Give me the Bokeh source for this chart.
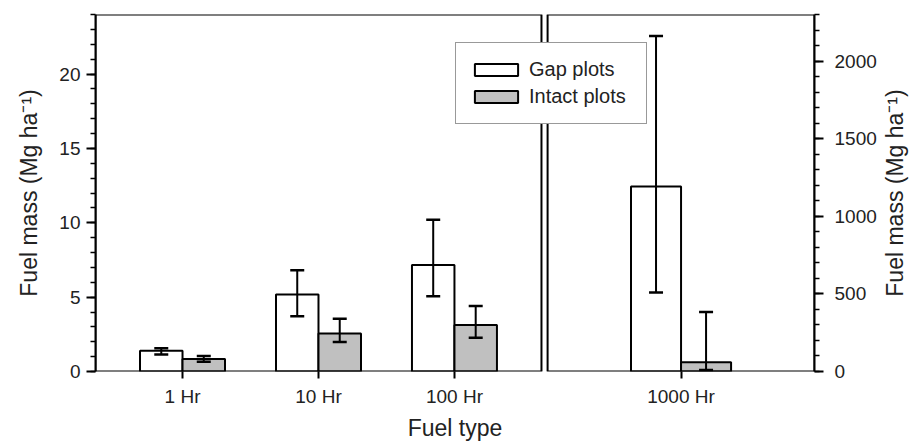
import math
from bokeh.plotting import figure
from bokeh.layouts import row
from bokeh.models import (Range1d, LinearAxis, SingleIntervalTicker, FixedTicker, Whisker,
                          TeeHead, ColumnDataSource, BoxAnnotation, Legend, LegendItem)
from bokeh.core.properties import value
from bokeh.embed import file_html
from bokeh.resources import INLINE

# ---------------- data ----------------
categories_left = ["1 Hr", "10 Hr", "100 Hr"]
gap_left = [1.40, 5.17, 7.16]
gap_left_lower = [1.15, 3.72, 5.06]
gap_left_upper = [1.57, 6.80, 10.2]
intact_left = [0.84, 2.56, 3.12]
intact_left_lower = [0.66, 1.98, 2.27]
intact_left_upper = [1.04, 3.54, 4.41]

categories_right = ["1000 Hr"]
gap_right = [1192]
gap_right_lower = [509]
gap_right_upper = [2162]
intact_right = [59]
intact_right_lower = [10]
intact_right_upper = [384]

series_names = ["Gap plots", "Intact plots"]
y_title = "Fuel mass (Mg ha⁻¹)"
x_title = "Fuel type"

# ---------------- layout ----------------
FONT = "Liberation Sans"
GAP_FILL = "white"
INTACT_FILL = "#c0c0c0"

PAD = 0.64
x_left = [i + 1 for i in range(len(categories_left))]
left_lo = x_left[0] - PAD
left_hi = x_left[-1] + PAD
PANEL_GAP = 0.045
RIGHT_SPAN = 1.963
right_lo = left_hi + PANEL_GAP
right_hi = right_lo + RIGHT_SPAN
x_right = [right_lo + RIGHT_SPAN / 2 + i for i in range(len(categories_right))]

W_LEFT = 0.3125
W_RIGHT = 0.368
Y_MAX_L = 24
Y_MAX_R = 2300
TOP = 14
FRAME_H = 357

p = figure(frame_width=719, frame_height=FRAME_H,
           x_range=Range1d(left_lo, right_hi), y_range=Range1d(0, Y_MAX_L),
           output_backend="svg", toolbar_location=None,
           min_border_left=95, min_border_top=TOP, min_border_right=64, min_border_bottom=3)
p.outline_line_color = None
p.background_fill_color = "white"
p.border_fill_color = "white"
p.xgrid.visible = False
p.ygrid.visible = False

p.extra_y_ranges = {"right": Range1d(0, Y_MAX_R)}

# ---------------- bars ----------------
src_l = ColumnDataSource(dict(
    xg=[x - W_LEFT / 2 for x in x_left], xi=[x + W_LEFT / 2 for x in x_left],
    gap=gap_left, gl=gap_left_lower, gu=gap_left_upper,
    intact=intact_left, il=intact_left_lower, iu=intact_left_upper))
src_r = ColumnDataSource(dict(
    xg=[x - W_RIGHT / 2 for x in x_right], xi=[x + W_RIGHT / 2 for x in x_right],
    gap=gap_right, gl=gap_right_lower, gu=gap_right_upper,
    intact=intact_right, il=intact_right_lower, iu=intact_right_upper))

bar_kw = dict(line_color="black", line_width=2)
g1 = p.vbar(x="xg", top="gap", bottom=0, width=W_LEFT, source=src_l, fill_color=GAP_FILL, **bar_kw)
i1 = p.vbar(x="xi", top="intact", bottom=0, width=W_LEFT, source=src_l, fill_color=INTACT_FILL, **bar_kw)
p.vbar(x="xg", top="gap", bottom=0, width=W_RIGHT, source=src_r, fill_color=GAP_FILL,
       y_range_name="right", **bar_kw)
p.vbar(x="xi", top="intact", bottom=0, width=W_RIGHT, source=src_r, fill_color=INTACT_FILL,
       y_range_name="right", **bar_kw)

def whisker(src, base, lo, hi, yr="default"):
    w = Whisker(source=src, base=base, lower=lo, upper=hi, line_width=2, line_color="black",
                upper_head=TeeHead(size=14, line_width=2.5, line_color="black"),
                lower_head=TeeHead(size=14, line_width=2.5, line_color="black"),
                level="annotation", y_range_name=yr)
    p.add_layout(w)

whisker(src_l, "xg", "gl", "gu")
whisker(src_l, "xi", "il", "iu")
whisker(src_r, "xg", "gl", "gu", "right")
whisker(src_r, "xi", "il", "iu", "right")

# ---------------- panel frames ----------------
for lo, hi in [(left_lo, left_hi), (right_lo, right_hi)]:
    p.add_layout(BoxAnnotation(left=lo, right=hi, bottom=0, top=Y_MAX_L, fill_color=None,
                               line_color="black", line_width=2, line_alpha=1, level="annotation"))

# ---------------- axes ----------------
yl = p.yaxis[0]
yl.ticker = SingleIntervalTicker(interval=5, num_minor_ticks=5)
yl.axis_label = y_title

yr_axis = LinearAxis(y_range_name="right", ticker=SingleIntervalTicker(interval=500, num_minor_ticks=5))
p.add_layout(yr_axis, "right")

for ax in [yl, yr_axis]:
    ax.axis_line_width = 2
    ax.axis_line_color = "black"
    ax.major_tick_line_width = 2
    ax.minor_tick_line_width = 1.5
    ax.major_tick_out = 9
    ax.major_tick_in = 0
    ax.minor_tick_out = 5
    ax.minor_tick_in = 0
    ax.major_label_text_font = FONT
    ax.major_label_text_font_size = "19px"
    ax.major_label_text_color = "#222222"
    ax.axis_label_text_font = FONT
    ax.axis_label_text_font_size = "23px"
    ax.axis_label_text_font_style = "normal"
    ax.axis_label_text_color = "#222222"
yl.major_label_standoff = 6
yl.axis_label_standoff = 14
yr_axis.major_label_standoff = 11

xa = p.xaxis[0]
all_x = x_left + x_right
xa.ticker = FixedTicker(ticks=all_x, minor_ticks=[])
xa.major_label_overrides = {x: c for x, c in zip(all_x, categories_left + categories_right)}
xa.axis_line_color = None
xa.major_tick_line_width = 2
xa.major_tick_out = 7
xa.major_tick_in = 0
xa.minor_tick_line_color = None
xa.major_label_text_font = FONT
xa.major_label_text_font_size = "19px"
xa.major_label_text_color = "#222222"
xa.major_label_standoff = 7
xa.axis_label = x_title
xa.axis_label_text_font = FONT
xa.axis_label_text_font_size = "23px"
xa.axis_label_text_font_style = "normal"
xa.axis_label_text_color = "#222222"
xa.axis_label_standoff = 5

# ---------------- legend ----------------
legend = Legend(items=[LegendItem(label=series_names[0], renderers=[g1]),
                       LegendItem(label=series_names[1], renderers=[i1])],
                location=(360, 247), padding=13, spacing=0,
                glyph_width=54, glyph_height=15, label_width=104, label_height=27,
                label_standoff=6, label_text_font=FONT, label_text_font_size="20px",
                label_text_color="#222222", border_line_color="#333333", border_line_width=1.5,
                background_fill_color="white", background_fill_alpha=1, level="overlay")
p.add_layout(legend)

# ---------------- right-hand axis title (reads bottom-to-top, as on the left) ----------------
p2 = figure(frame_width=30, frame_height=FRAME_H, x_range=Range1d(0, 1), y_range=Range1d(0, Y_MAX_L),
            output_backend="svg", toolbar_location=None,
            min_border_left=0, min_border_right=0, min_border_top=TOP, min_border_bottom=0)
p2.axis.visible = False
p2.grid.visible = False
p2.outline_line_color = None
p2.background_fill_color = "white"
p2.border_fill_color = "white"
p2.text(x=[0.5], y=[Y_MAX_L / 2], text=[y_title], angle=math.pi / 2,
        text_align="center", text_baseline="middle", text_font=value(FONT),
        text_font_size="23px", text_color="#222222")

open("out.html", "w").write(file_html(row(p, p2), INLINE))
